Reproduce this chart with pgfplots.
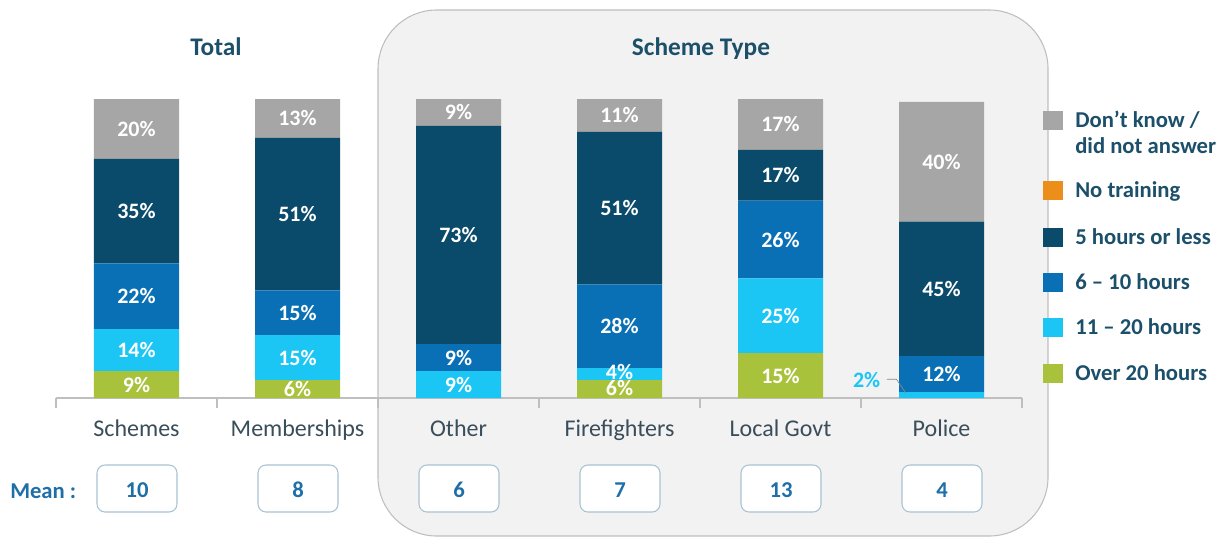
\documentclass[border=0pt]{standalone}
\usepackage{fontspec}
\setmainfont{Carlito}
\usepackage{pgfplots}
\pgfplotsset{compat=1.18}
\usepackage{pgfplotstable}

\definecolor{cgray}{HTML}{A6A6A6}
\definecolor{corange}{HTML}{EB8F1A}
\definecolor{cnavy}{HTML}{0A4A6A}
\definecolor{cblue}{HTML}{0A70B5}
\definecolor{ccyan}{HTML}{1CC6F4}
\definecolor{cgreen}{HTML}{A9C23B}
\definecolor{ctitle}{HTML}{1B4F6A}
\definecolor{ccat}{HTML}{3A4D5A}
\definecolor{cmean}{HTML}{1E6FA8}
\definecolor{cmeanbox}{HTML}{A9C3D3}
\definecolor{cpanel}{HTML}{F2F2F2}
\definecolor{cline}{HTML}{BFBFBF}

% shares per category: 0 Schemes, 1 Memberships, 2 Other, 3 Firefighters, 4 Local Govt, 5 Police
\pgfplotstableread{
x over  mid   six  five none dk
0 9     14    22   35   0    20
1 6     15    15   51   0    13
2 0     9     9    73   0    9
3 6     4     28   51   0    11
4 15    25    26   17   0    17
5 0     2     12   45   0    40
}\shares

% label positions (middle of each segment)
\pgfplotstableread{
x ym   v
0 4.5  9
0 16   14
0 34   22
0 62.5 35
0 90   20
1 3    6
1 13.5 15
1 28.5 15
1 61.5 51
1 93.5 13
2 4.5  9
2 13.5 9
2 54.5 73
2 95.5 9
3 3.3  6
3 8.7  4
3 24   28
3 63.5 51
3 94.5 11
4 7.5  15
4 27.5 25
4 53   26
4 74.5 17
4 91.5 17
5 8    12
5 36.5 45
5 79   40
}\labels

\newcommand{\fs}[1]{\fontsize{#1}{#1}\selectfont}

\pgfplotsset{
  base/.style={
    at={(42pt,-298.5pt)}, anchor=south west,
    scale only axis, width=724.5pt, height=224.25pt,
    xmin=-0.5, xmax=5.5, ymin=0, ymax=100,
    clip=false,
  },
  pct/.style={draw=none, mark=none,
    nodes near coords={\pgfplotspointmeta\%},
    point meta=explicit symbolic, nodes near coords align=center,
    every node near coord/.append style={anchor=center, inner sep=0pt, text=#1, font=\fs{16.5}\bfseries}},
}

\begin{document}
\begin{tikzpicture}
% panel behind the scheme types
\begin{scope}[x=0.75pt,y=-0.75pt]
  \draw[cline, fill=cpanel, line width=0.8pt, rounded corners=44pt]
    (378,10) rectangle (1048,536);
\end{scope}

\begin{axis}[base,
    ybar stacked, bar width=63.75pt,
    axis x line=bottom, axis y line=none,
    x axis line style={-, draw=cline, line width=0.8pt},
    xtick={0,...,5},
    xticklabels={Schemes,Memberships,Other,Firefighters,Local Govt,Police},
    major tick length=0pt,
    minor xtick={-0.5,0.5,...,5.5},
    minor tick length=7.5pt,
    tick align=outside,
    minor tick style={draw=cline, line width=0.8pt},
    xticklabel style={font=\fs{18}, color=ccat, anchor=base, yshift=-28.5pt, inner sep=0pt},
  ]
  \addplot[fill=cgreen, draw=none] table[x=x, y=over] {\shares};
  \addplot[fill=ccyan,  draw=none] table[x=x, y=mid]  {\shares};
  \addplot[fill=cblue,  draw=none] table[x=x, y=six]  {\shares};
  \addplot[fill=cnavy,  draw=none] table[x=x, y=five] {\shares};
  \addplot[fill=corange,draw=none] table[x=x, y=none] {\shares};
  \addplot[fill=cgray,  draw=none] table[x=x, y=dk]   {\shares};
\end{axis}

\begin{axis}[base, hide axis]
  \addplot[pct=white] table[x=x, y=ym, meta=v] {\labels};
  \addplot[pct=ccyan] coordinates {(4.535,6) [2]};
  \draw[cline!70!black, line width=0.5pt] (axis cs:4.66,6.3) -- (axis cs:4.72,6.3) -- (axis cs:4.78,1.5);
\end{axis}

\begin{scope}[x=0.75pt,y=-0.75pt]
  % titles
  \node[anchor=base, inner sep=0pt, text=ctitle, font=\fs{19}\bfseries] at (216,55) {Total};
  \node[anchor=base, inner sep=0pt, text=ctitle, font=\fs{19}\bfseries] at (701,55) {Scheme Type};
  % means
  \node[anchor=base west, inner sep=0pt, text=cmean, font=\fs{17}\bfseries] at (10,498) {Mean :};
  \foreach \cx/\m in {137/10, 298/8, 459/6, 620/7, 781/13, 942/4} {
    \draw[cmeanbox, fill=white, line width=0.8pt, rounded corners=6pt]
      (\cx-40,465) rectangle (\cx+40,512);
    \node[anchor=base, inner sep=0pt, text=cmean, font=\fs{17}\bfseries] at (\cx,497) {\m};
  }
  % legend
  \foreach \yy/\cc in {120/cgray, 190/corange, 237/cnavy, 282/cblue, 327/ccyan, 373/cgreen} {
    \fill[\cc] (1043,\yy-9.5) rectangle (1063,\yy+9.5);
  }
  \begin{scope}[every node/.style={anchor=base west, inner sep=0pt, text=ctitle, font=\fs{17}\bfseries}]
    \node at (1075,127) {Don’t know /};
    \node at (1075,153) {did not answer};
    \node at (1075,197) {No training};
    \node at (1075,244) {5 hours or less};
    \node at (1075,289) {6 – 10 hours};
    \node at (1075,334) {11 – 20 hours};
    \node at (1075,380) {Over 20 hours};
  \end{scope}
\end{scope}

\pgfresetboundingbox
\path (0,0) rectangle (922.5pt,-404.25pt);
\end{tikzpicture}
\end{document}
